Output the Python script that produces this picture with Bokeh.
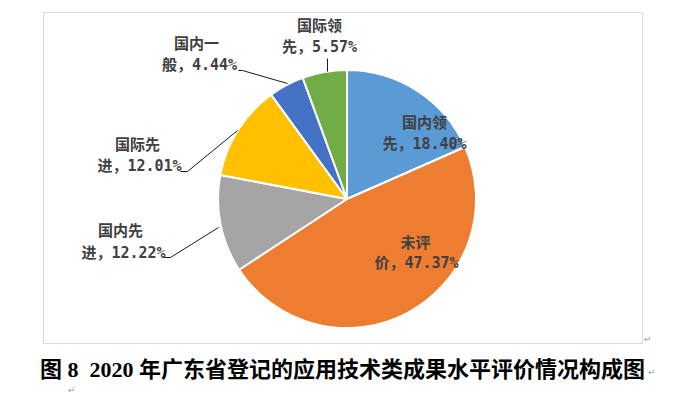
import math
from bokeh.plotting import figure
from bokeh.models import Range1d, ColumnDataSource
from bokeh.core.properties import value
from bokeh.embed import file_html
from bokeh.resources import INLINE

# ---- data ----
categories = ["国内领先", "未评价", "国内先进", "国际先进", "国内一般", "国际领先"]
values = [18.40, 47.37, 12.22, 12.01, 4.44, 5.57]
label_first = ["国内领", "未评", "国内先", "国际先", "国内一", "国际领"]
colors = ["#5B9BD5", "#ED7D31", "#A5A5A5", "#FFC000", "#4472C4", "#70AD47"]
caption = "图 8\u00a0\u00a02020 年广东省登记的应用技术类成果水平评价情况构成图"

# ---- layout (screen pixel coords of the picture) ----
W, H = 680, 396
OFF = 0
def SX(sx): return sx - OFF
def SY(sy): return H - (sy - OFF)

cx, cy, r = 346.5, 198.5, 129
label_pos = [((424, 122), (424, 143)),
             ((415, 242), (416, 262)),
             ((120, 230), (123, 252)),
             ((137, 144), (139, 165)),
             ((196, 43), (199, 64)),
             ((319, 25), (319, 46))]
leaders = {
    "国内先进": [(163, 257), (170, 257), (218, 227)],
    "国际先进": [(180, 171), (187, 171), (237, 130)],
    "国内一般": [(238, 70), (242, 70), (287, 83)],
    "国际领先": [(327, 58), (327, 71)],
}

p = figure(width=W, height=H, output_backend="svg", toolbar_location=None,
           x_range=Range1d(0, W), y_range=Range1d(0, H),
           x_axis_location=None, y_axis_location=None, min_border=0,
           background_fill_color="white", border_fill_color="white")
p.outline_line_color = None
p.grid.visible = False

# chart border
p.quad(left=[SX(43)], right=[SX(642)], top=[SY(12)], bottom=[SY(343)],
       fill_color=None, line_color="#D9D9D9", line_width=1)

# pie wedges
total = sum(values)
starts, ends = [], []
cum = 0.0
for v in values:
    starts.append(math.pi / 2 - cum / total * 2 * math.pi)
    cum += v
    ends.append(math.pi / 2 - cum / total * 2 * math.pi)
src = ColumnDataSource(dict(cat=categories, val=values, start=starts, end=ends, color=colors))
p.wedge(x=SX(cx), y=SY(cy), radius=r, start_angle="start", end_angle="end",
        direction="clock", fill_color="color", line_color="white", line_width=2, source=src)

# leader lines
for cat, pts in leaders.items():
    p.line([SX(a) for a, b in pts], [SY(b) for a, b in pts], line_color="#1a1a1a", line_width=1)

# labels
font = value("DejaVu Sans Mono, Noto Sans CJK SC")
for cat, v, first, ((x1, y1), (x2, y2)) in zip(categories, values, label_first, label_pos):
    second = cat[len(first):] + "，" + f"{v:.2f}%"
    p.text(x=[SX(x1), SX(x2)], y=[SY(y1), SY(y2)], text=[first, second],
           text_font=font, text_font_size="15px", text_font_style="bold",
           text_color="#404040", text_align="center", text_baseline="middle")

# caption
p.text(x=[SX(342)], y=[SY(369)], text=[caption],
       text_font=value("Liberation Serif, Noto Sans CJK SC"), text_font_size="22px",
       text_font_style="bold", text_color="black", text_align="center", text_baseline="middle")

# paragraph marks
p.text(x=[SX(647), SX(651), SX(71)], y=[SY(338), SY(371), SY(389)], text=["↵", "↵", "↵"],
       text_font=value("DejaVu Sans"), text_font_size="9px", text_color="#A0A0A0",
       text_align="center", text_baseline="middle")

open("out.html", "w").write(file_html(p, INLINE))
